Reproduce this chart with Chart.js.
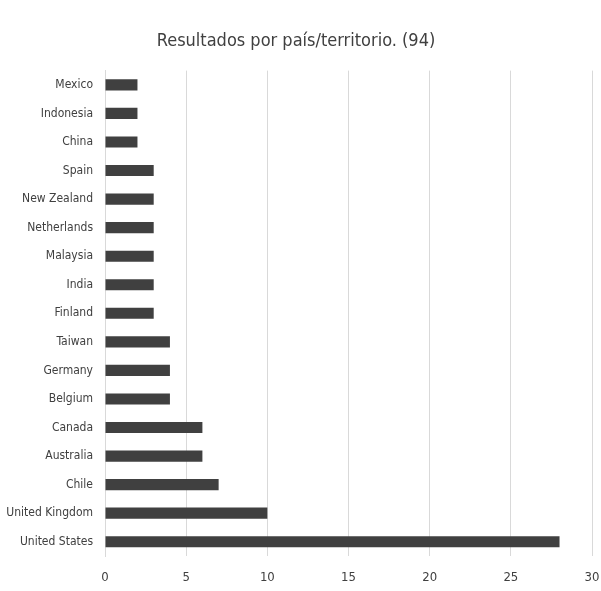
<!DOCTYPE html>
<html>
<head>
<meta charset="utf-8">
<script src="https://cdn.jsdelivr.net/npm/chart.js@4"></script>
<style>
  body { margin: 0; background: #fff; }
</style>
</head>
<body>
<canvas id="chart" width="601" height="591"></canvas>
<script>
// datos
const paises = ['Mexico', 'Indonesia', 'China', 'Spain', 'New Zealand', 'Netherlands', 'Malaysia', 'India', 'Finland', 'Taiwan', 'Germany', 'Belgium', 'Canada', 'Australia', 'Chile', 'United Kingdom', 'United States'];
const resultados = [2, 2, 2, 3, 3, 3, 3, 3, 3, 4, 4, 4, 6, 6, 7, 10, 28];
const titulo = 'Resultados por país/territorio. (94)';

const fuente = "'Liberation Sans Narrow', 'DejaVu Sans Condensed', sans-serif";

const ctx = document.getElementById('chart');

new Chart(ctx, {
    type: 'bar',
    data: {
        labels: paises,
        datasets: [{
            data: resultados,
            backgroundColor: '#404040',
            barPercentage: 0.78,
            categoryPercentage: 0.5
        }]
    },
    options: {
        indexAxis: 'y',
        responsive: false,
        animation: false,
        layout: { padding: { left: 0, right: 9, top: 0, bottom: 0 } },
        plugins: {
            legend: { display: false },
            tooltip: { enabled: false },
            title: {
                display: true,
                text: titulo,
                color: '#404040',
                font: { family: fuente, size: 18, weight: 'normal' },
                padding: { top: 31, bottom: 18 }
            }
        },
        scales: {
            x: {
                min: 0,
                max: 30,
                ticks: { stepSize: 5, color: '#404040', font: { family: fuente, size: 13 }, padding: 14 },
                grid: { color: '#d9d9d9', drawTicks: false },
                border: { display: false },
                afterFit: function (axis) {
                    axis.height = 35;
                    axis.paddingLeft = 0;
                    axis.paddingRight = 0;
                }
            },
            y: {
                ticks: { color: '#404040', font: { family: fuente, size: 12 }, padding: 12 },
                grid: { display: false, drawTicks: false },
                border: { color: '#d9d9d9' },
                afterFit: function (axis) { axis.width = 105; }
            }
        }
    }
});
</script>
</body>
</html>
